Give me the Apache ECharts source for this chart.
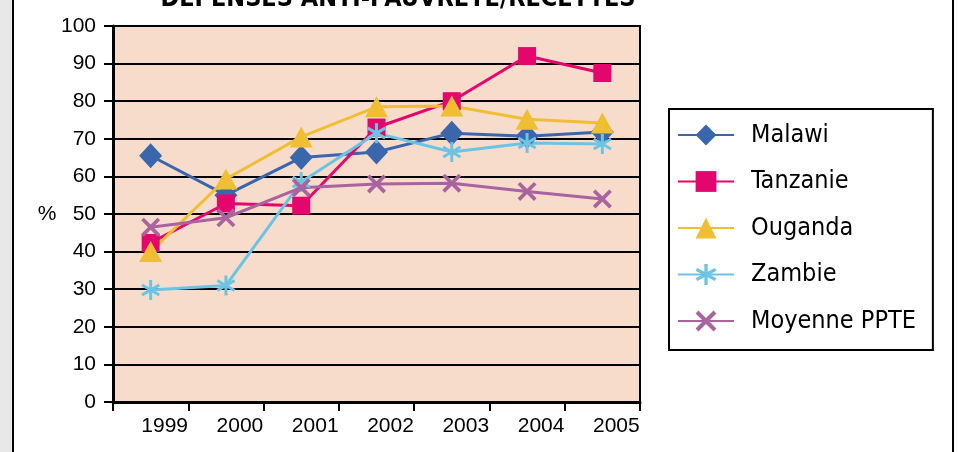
<!DOCTYPE html>
<html lang="fr">
<head>
<meta charset="UTF-8">
<title>Dépenses anti-pauvreté/recettes</title>
<script src="https://cdn.jsdelivr.net/npm/echarts@6/dist/echarts.min.js"></script>
<style>
  html, body { margin: 0; padding: 0; background: #fff; }
  #main { width: 958px; height: 452px; }
</style>
</head>
<body>
<div id="main"></div>
<script>
var years = ['1999', '2000', '2001', '2002', '2003', '2004', '2005'];
var yTicks = [0, 10, 20, 30, 40, 50, 60, 70, 80, 90, 100];

var malawi = [65.5, 55, 65, 66.5, 71.5, 70.7, 71.8];
var tanzanie = [42.3, 52.8, 52.2, 73, 80, 92, 87.5];
var ouganda = [40, 59.3, 70.5, 78.5, 78.7, 75.2, 74.2];
var zambie = [29.8, 31, 58.5, 71.5, 66.5, 68.9, 68.6];
var moyenne = [46.5, 49, 57, 58, 58.2, 56, 54];

var narrow = "'DejaVu Sans Condensed', 'Liberation Sans Narrow', sans-serif";

// asterisk and cross markers drawn as filled paths
var starPath = 'path://M-1.5,-10L1.5,-10L1.5,10L-1.5,10Z' +
  'M-9.41,-3.7L-7.91,-6.3L9.41,3.7L7.91,6.3Z' +
  'M-7.91,6.3L-9.41,3.7L7.91,-6.3L9.41,-3.7Z';
var crossPath = 'path://M-8.2,-5.94L-5.94,-8.2L8.2,5.94L5.94,8.2Z' +
  'M-5.94,8.2L-8.2,5.94L5.94,-8.2L8.2,-5.94Z';

var chart = echarts.init(document.getElementById('main'));

function line(name, data, color, symbol, size) {
  return {
    name: name,
    type: 'line',
    data: data,
    symbol: symbol,
    symbolSize: size,
    symbolKeepAspect: true,
    showAllSymbol: true,
    color: color,
    lineStyle: { color: color, width: 3 },
    itemStyle: { color: color },
    emphasis: { disabled: true },
    animation: false
  };
}

var option = {
  backgroundColor: '#fff',
  animation: false,
  textStyle: { fontFamily: 'Liberation Sans' },
  graphic: [
    { type: 'rect', shape: { x: 0, y: 0, width: 12, height: 452 }, style: { fill: '#e8e8e8' }, silent: true },
    { type: 'rect', shape: { x: 12, y: 0, width: 2, height: 452 }, style: { fill: '#000' }, silent: true },
    { type: 'rect', shape: { x: 952, y: 0, width: 2, height: 452 }, style: { fill: '#000' }, silent: true },
    {
      type: 'text', x: 398, y: 12, silent: true,
      style: {
        text: 'DÉPENSES ANTI-PAUVRETÉ/RECETTES',
        fontFamily: narrow, fontWeight: 'bold', fontSize: 25,
        fill: '#000', align: 'center', verticalAlign: 'bottom'
      }
    },
    {
      type: 'text', x: 47, y: 214, silent: true,
      style: {
        text: '%', fontFamily: 'Liberation Sans', fontSize: 21,
        fill: '#000', align: 'center', verticalAlign: 'middle'
      }
    }
  ],
  grid: {
    left: 113, top: 26, right: 318, bottom: 50,
    show: true, backgroundColor: '#f7dccb', borderColor: '#000', borderWidth: 2
  },
  legend: {
    left: 669, top: 109,
    orient: 'vertical',
    backgroundColor: '#fff',
    borderColor: '#000', borderWidth: 2,
    padding: [11, 17, 14, 8],
    itemWidth: 56, itemHeight: 26, itemGap: 16.5,
    textStyle: { fontFamily: narrow, fontSize: 25, lineHeight: 30, color: '#000', padding: [0, 0, 0, 12] },
    selectedMode: false,
    data: ['Malawi', 'Tanzanie', 'Ouganda', 'Zambie', 'Moyenne PPTE']
  },
  xAxis: {
    type: 'category',
    data: years,
    boundaryGap: true,
    axisLine: { lineStyle: { color: '#000', width: 3 } },
    axisTick: { show: true, length: 9, lineStyle: { color: '#000', width: 2 } },
    axisLabel: { color: '#000', fontSize: 21, margin: 14, padding: [0, 0, 0, 28] }
  },
  yAxis: {
    type: 'value',
    min: yTicks[0], max: yTicks[yTicks.length - 1], interval: 10,
    axisLine: { show: true, lineStyle: { color: '#000', width: 3 } },
    axisTick: { show: true, length: 9, lineStyle: { color: '#000', width: 2 } },
    axisLabel: { color: '#000', fontSize: 21, margin: 17 },
    splitLine: { lineStyle: { color: '#000', width: 2 } }
  },
  series: [
    line('Malawi', malawi, '#3a67ab', 'diamond', [23, 25]),
    line('Tanzanie', tanzanie, '#e5066d', 'rect', 18),
    line('Ouganda', ouganda, '#f0be32', 'triangle', [23, 21]),
    line('Zambie', zambie, '#6cc4e4', starPath, 20),
    line('Moyenne PPTE', moyenne, '#a9639e', crossPath, 19)
  ]
};
chart.setOption(option);
</script>
</body>
</html>
